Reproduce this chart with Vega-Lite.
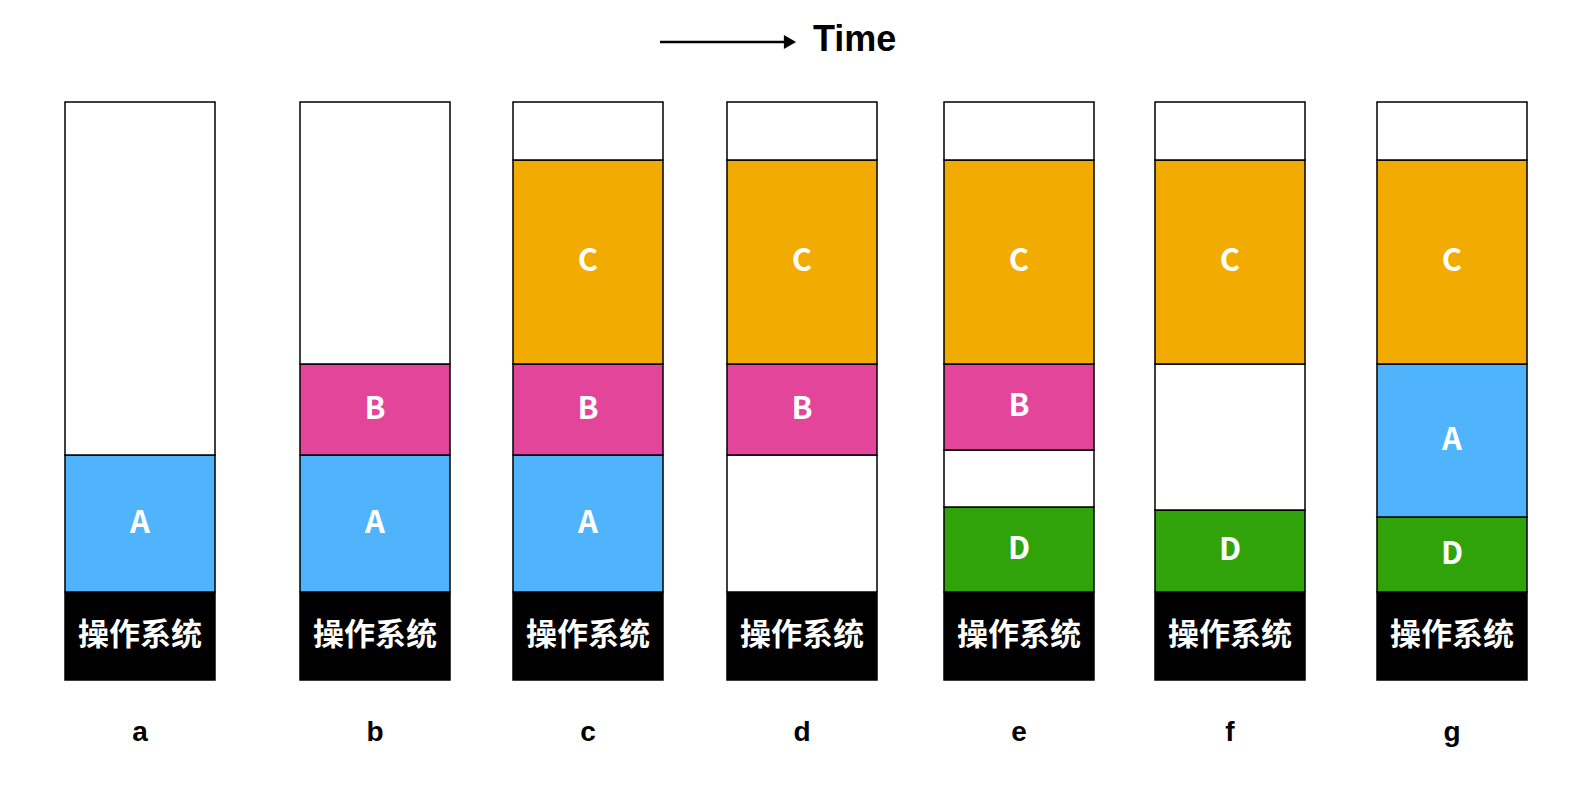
{
  "$schema": "https://vega.github.io/schema/vega-lite/v6.json",
  "width": 1578,
  "height": 790,
  "autosize": {"type": "none"},
  "padding": 0,
  "background": "white",
  "config": {"view": {"stroke": null}},
  "datasets": {
    "blocks": [
      {"col": "a", "x0": 65, "x1": 215, "lo": 0, "hi": 88, "kind": "OS", "label": "操作系统"},
      {"col": "a", "x0": 65, "x1": 215, "lo": 88, "hi": 225, "kind": "A", "label": "A"},
      {"col": "a", "x0": 65, "x1": 215, "lo": 225, "hi": 578, "kind": "free", "label": ""},
      {"col": "b", "x0": 300, "x1": 450, "lo": 0, "hi": 88, "kind": "OS", "label": "操作系统"},
      {"col": "b", "x0": 300, "x1": 450, "lo": 88, "hi": 225, "kind": "A", "label": "A"},
      {"col": "b", "x0": 300, "x1": 450, "lo": 225, "hi": 316, "kind": "B", "label": "B"},
      {"col": "b", "x0": 300, "x1": 450, "lo": 316, "hi": 578, "kind": "free", "label": ""},
      {"col": "c", "x0": 513, "x1": 663, "lo": 0, "hi": 88, "kind": "OS", "label": "操作系统"},
      {"col": "c", "x0": 513, "x1": 663, "lo": 88, "hi": 225, "kind": "A", "label": "A"},
      {"col": "c", "x0": 513, "x1": 663, "lo": 225, "hi": 316, "kind": "B", "label": "B"},
      {"col": "c", "x0": 513, "x1": 663, "lo": 316, "hi": 520, "kind": "C", "label": "C"},
      {"col": "c", "x0": 513, "x1": 663, "lo": 520, "hi": 578, "kind": "free", "label": ""},
      {"col": "d", "x0": 727, "x1": 877, "lo": 0, "hi": 88, "kind": "OS", "label": "操作系统"},
      {"col": "d", "x0": 727, "x1": 877, "lo": 88, "hi": 225, "kind": "free", "label": ""},
      {"col": "d", "x0": 727, "x1": 877, "lo": 225, "hi": 316, "kind": "B", "label": "B"},
      {"col": "d", "x0": 727, "x1": 877, "lo": 316, "hi": 520, "kind": "C", "label": "C"},
      {"col": "d", "x0": 727, "x1": 877, "lo": 520, "hi": 578, "kind": "free", "label": ""},
      {"col": "e", "x0": 944, "x1": 1094, "lo": 0, "hi": 88, "kind": "OS", "label": "操作系统"},
      {"col": "e", "x0": 944, "x1": 1094, "lo": 88, "hi": 173, "kind": "D", "label": "D"},
      {"col": "e", "x0": 944, "x1": 1094, "lo": 173, "hi": 230, "kind": "free", "label": ""},
      {"col": "e", "x0": 944, "x1": 1094, "lo": 230, "hi": 316, "kind": "B", "label": "B"},
      {"col": "e", "x0": 944, "x1": 1094, "lo": 316, "hi": 520, "kind": "C", "label": "C"},
      {"col": "e", "x0": 944, "x1": 1094, "lo": 520, "hi": 578, "kind": "free", "label": ""},
      {"col": "f", "x0": 1155, "x1": 1305, "lo": 0, "hi": 88, "kind": "OS", "label": "操作系统"},
      {"col": "f", "x0": 1155, "x1": 1305, "lo": 88, "hi": 170, "kind": "D", "label": "D"},
      {"col": "f", "x0": 1155, "x1": 1305, "lo": 170, "hi": 316, "kind": "free", "label": ""},
      {"col": "f", "x0": 1155, "x1": 1305, "lo": 316, "hi": 520, "kind": "C", "label": "C"},
      {"col": "f", "x0": 1155, "x1": 1305, "lo": 520, "hi": 578, "kind": "free", "label": ""},
      {"col": "g", "x0": 1377, "x1": 1527, "lo": 0, "hi": 88, "kind": "OS", "label": "操作系统"},
      {"col": "g", "x0": 1377, "x1": 1527, "lo": 88, "hi": 163, "kind": "D", "label": "D"},
      {"col": "g", "x0": 1377, "x1": 1527, "lo": 163, "hi": 316, "kind": "A", "label": "A"},
      {"col": "g", "x0": 1377, "x1": 1527, "lo": 316, "hi": 520, "kind": "C", "label": "C"},
      {"col": "g", "x0": 1377, "x1": 1527, "lo": 520, "hi": 578, "kind": "free", "label": ""}
    ],
    "cols": [
      {"col": "a", "xc": 140}, {"col": "b", "xc": 375}, {"col": "c", "xc": 588},
      {"col": "d", "xc": 802}, {"col": "e", "xc": 1019}, {"col": "f", "xc": 1230},
      {"col": "g", "xc": 1452}
    ],
    "arrow": [{"xa": 660, "xb": 790, "y": 638}]
  },
  "layer": [
    {
      "data": {"name": "blocks"},
      "mark": {"type": "rect", "stroke": "black", "strokeWidth": 1.5},
      "encoding": {
        "x": {"field": "x0", "type": "quantitative", "scale": {"domain": [0, 1578], "nice": false, "zero": false}, "axis": null},
        "x2": {"field": "x1"},
        "y": {"field": "lo", "type": "quantitative", "scale": {"domain": [-110, 680], "nice": false, "zero": false}, "axis": null},
        "y2": {"field": "hi"},
        "fill": {
          "field": "kind", "type": "nominal", "legend": null,
          "scale": {"domain": ["OS", "A", "B", "C", "D", "free"],
                    "range": ["#000000", "#4fb4fb", "#e2459a", "#f2ab00", "#30a30b", "#ffffff"]}
        }
      }
    },
    {
      "data": {"name": "blocks"},
      "transform": [{"calculate": "(datum.x0 + datum.x1) / 2", "as": "xm"}, {"calculate": "(datum.lo + datum.hi) / 2", "as": "ym"}],
      "mark": {"type": "text", "color": "white", "fontSize": 31, "fontWeight": "bold", "font": "Noto Sans CJK SC", "baseline": "middle"},
      "encoding": {
        "x": {"field": "xm", "type": "quantitative"},
        "y": {"field": "ym", "type": "quantitative"},
        "text": {"field": "label"}
      }
    },
    {
      "data": {"name": "cols"},
      "mark": {"type": "text", "fontSize": 28, "fontWeight": "bold", "font": "Liberation Sans", "baseline": "middle", "color": "black"},
      "encoding": {
        "x": {"field": "xc", "type": "quantitative"},
        "y": {"datum": -53, "type": "quantitative"},
        "text": {"field": "col"}
      }
    },
    {
      "data": {"name": "arrow"},
      "mark": {"type": "rule", "strokeWidth": 2.5, "color": "black"},
      "encoding": {
        "x": {"field": "xa", "type": "quantitative"},
        "x2": {"field": "xb"},
        "y": {"field": "y", "type": "quantitative"}
      }
    },
    {
      "data": {"name": "arrow"},
      "mark": {"type": "point", "shape": "triangle-right", "filled": true, "color": "black", "size": 200, "opacity": 1},
      "encoding": {
        "x": {"field": "xb", "type": "quantitative"},
        "y": {"field": "y", "type": "quantitative"}
      }
    },
    {
      "data": {"values": [{"t": "Time", "x": 813, "y": 640}]},
      "mark": {"type": "text", "align": "left", "baseline": "middle", "fontSize": 36, "fontWeight": "bold", "font": "Liberation Sans", "color": "black"},
      "encoding": {
        "x": {"field": "x", "type": "quantitative"},
        "y": {"field": "y", "type": "quantitative"},
        "text": {"field": "t"}
      }
    }
  ]
}
